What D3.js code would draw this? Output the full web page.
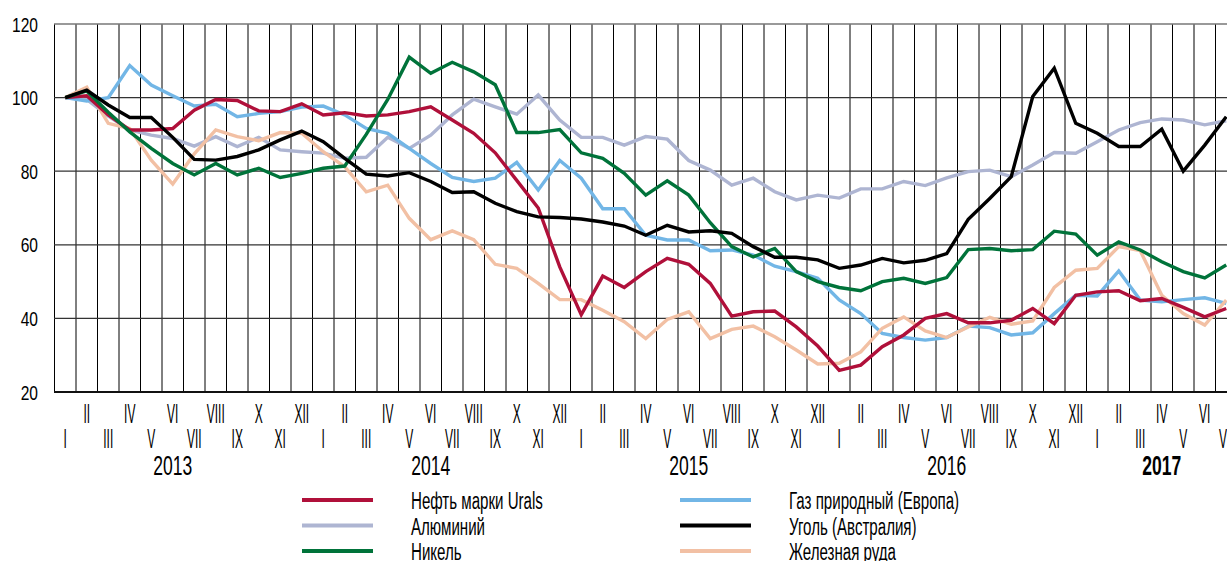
<!DOCTYPE html>
<html>
<head>
<meta charset="utf-8">
<script src="https://cdn.jsdelivr.net/npm/d3@7"></script>
<style>
  body { margin: 0; background: #fff; }
  svg { display: block; }
  text { font-family: "Liberation Sans Narrow", "Arial Narrow", "Liberation Sans", sans-serif; fill: #000; }
</style>
</head>
<body>
<div id="chart"></div>
<script>
// months Jan 2013 - Jul 2017
var months = ["I","II","III","IV","V","VI","VII","VIII","IX","X","XI","XII",
              "I","II","III","IV","V","VI","VII","VIII","IX","X","XI","XII",
              "I","II","III","IV","V","VI","VII","VIII","IX","X","XI","XII",
              "I","II","III","IV","V","VI","VII","VIII","IX","X","XI","XII",
              "I","II","III","IV","V","VI","VII"];
var yearLabels = ["2013", "2014", "2015", "2016", "2017"];
var yearAt = [5, 17, 29, 41, 51];
var yTicks = [20, 40, 60, 80, 100, 120];

var urals = [100,100.5,95.3,91.2,91.2,91.6,96.6,99.5,99.2,96.4,96.2,98.3,
             95.3,95.9,95,95.3,96.2,97.5,93.9,90.3,85,77.5,70,54,
             41,51.5,48.4,52.7,56.3,54.7,49.5,40.6,41.8,42,37.7,32.5,
             25.9,27.3,32.3,35.5,40,41.3,38.8,38.8,39.5,42.7,38.6,46.3,
             47.2,47.5,44.8,45.4,43,40.4,42.7];
var aluminium = [100,99.5,95,91.2,89.8,88.9,86.8,89.4,86.7,89.2,85.8,85.3,
             84.9,83.5,83.8,89.2,86.2,89.8,95.3,99.6,97.5,95.5,100.7,93.9,
             89.2,89.2,87.1,89.4,88.7,82.9,80.3,76.2,78.1,74.4,72.2,73.5,
             72.7,75.2,75.2,77.2,76.1,78.2,79.9,80.3,78.5,81.7,85.1,84.9,
             88,91.2,93.2,94.2,93.9,92.6,93.7];
var nickel = [100,101.8,96,90.7,86.2,82.1,79,82.1,79,80.8,78.3,79.4,
             80.8,81.4,90,99.5,111,106.6,109.6,107,103.5,90.5,90.5,91.3,
             85,83.5,79.4,73.5,77.4,73.5,66,59.5,56.7,59,52.7,50,
             48.4,47.5,50,50.9,49.5,51.1,58.7,59,58.4,58.7,63.7,62.9,
             57.2,60.8,58.6,55.4,52.7,51,54.5];
var gas = [100,99.1,100,108.7,103.4,100.5,97.7,98.2,94.8,95.7,96.2,97.4,
             97.7,95.3,91.6,90.3,86.2,82.1,78.3,77.2,78.1,82.4,74.9,82.9,
             78.1,69.8,69.8,62.6,61.3,61.3,58.4,58.6,57.2,54.2,52.7,50.9,
             45,41.3,35.9,34.8,34.1,34.8,37.9,37.5,35.5,36.1,41.3,46.3,
             46.1,52.9,45,44.5,45.1,45.6,44.1];
var coal = [100,102,98,94.6,94.6,89.2,83.2,83,84,85.8,88.5,90.9,
             88,83.5,79.2,78.7,79.6,77.2,74.2,74.4,71.3,69,67.6,67.4,
             67,66.2,65.1,62.6,65.3,63.5,63.8,63.1,59.5,56.6,56.6,55.9,
             53.6,54.5,56.3,55.1,55.8,57.6,66.9,72.6,78.5,100.3,108,93,
             90.3,86.7,86.7,91.4,80,87.1,94.8];
var ironOre = [100,102.8,93,91.6,83,76.5,84.7,91.2,89.4,88.3,90.5,90.3,
             85.3,81.2,74.4,76.2,67.2,61.4,63.8,61.4,54.7,53.6,49.5,45.1,
             45.1,42.2,39.1,34.5,39.7,41.8,34.5,37,37.9,35,31.4,27.6,
             27.8,30.9,37.3,40.4,36.6,34.8,37.7,40.3,38.4,39.3,48.4,53.1,
             53.6,59.5,58.4,46.3,41.3,38.2,45];

var seriesNames = ["Нефть марки Urals", "Алюминий", "Никель", "Газ природный (Европа)", "Уголь (Австралия)", "Железная руда"];
var seriesValues = [urals, aluminium, nickel, gas, coal, ironOre];
var seriesColors = ["#b0103a", "#aeb5d2", "#00733a", "#72b6e6", "#000000", "#f2c0a4"];
var drawOrder = [1, 3, 5, 0, 2, 4];

var width = 1227, height = 561;

var svg = d3.select("#chart").append("svg")
    .attr("width", width)
    .attr("height", height);

var x = d3.scaleBand()
    .domain(d3.range(months.length))
    .range([54.5, 54.5 + months.length * 21.5]);
var bw = x.bandwidth();

var y = d3.scaleLinear()
    .domain([20, 120])
    .range([392, 24]);

// squeeze the text to the narrow face of the original
function fit(str, size, weight, target) {
    var t = svg.append("text").style("font-size", size + "px").style("font-weight", weight).text(str);
    var w = t.node().getComputedTextLength();
    t.remove();
    return target / w;
}
var sxY = fit("120", 21, "normal", 26);
var sxRoman = fit("VIII", 27, "normal", 18);
var sxYear = fit("2013", 27, "normal", 39);
var sxLegend = fit("Нефть марки Urals", 23, "normal", 132);

// grid
var grid = svg.append("g");
var vlines = d3.range(months.length + 1).map(function (k) {
    return k < months.length ? x(k) : x.range()[1];
});
grid.selectAll(".vl")
    .data(vlines)
    .enter().append("line")
    .attr("x1", function (d) { return d; })
    .attr("x2", function (d) { return d; })
    .attr("y1", y(120))
    .attr("y2", y(20))
    .attr("stroke", "#000")
    .attr("stroke-width", 1);

grid.selectAll(".hl")
    .data(yTicks)
    .enter().append("line")
    .attr("x1", 54)
    .attr("x2", width)
    .attr("y1", function (d) { return y(d); })
    .attr("y2", function (d) { return y(d); })
    .attr("stroke", function (d) { return d == 120 ? "#777" : (d == 20 ? "#111" : "#333"); })
    .attr("stroke-width", function (d) { return d == 20 ? 2 : 1.3; });

// y labels
svg.selectAll(".ylab")
    .data(yTicks)
    .enter().append("text")
    .attr("transform", function (d) { return "translate(38," + y(d) + ") scale(" + sxY + ",1)"; })
    .attr("dy", "0.36em")
    .attr("text-anchor", "end")
    .style("font-size", "21px")
    .text(function (d) { return d; });

// month labels, two staggered rows
svg.selectAll(".mlab")
    .data(months)
    .enter().append("text")
    .attr("transform", function (d, i) {
        var yy = i % 2 == 0 ? 448 : 423;
        return "translate(" + (x(i) + bw / 2) + "," + yy + ") scale(" + sxRoman + ",1)";
    })
    .attr("text-anchor", "middle")
    .style("font-size", "27px")
    .text(function (d) { return d; });

// years
svg.selectAll(".ylbl")
    .data(yearLabels)
    .enter().append("text")
    .attr("transform", function (d, i) {
        return "translate(" + (x(yearAt[i]) + bw / 2) + ",475) scale(" + sxYear + ",1)";
    })
    .attr("text-anchor", "middle")
    .style("font-size", "27px")
    .style("font-weight", function (d) { return d == "2017" ? "bold" : "normal"; })
    .text(function (d) { return d; });

// series
var line = d3.line()
    .x(function (d, i) { return x(i) + bw / 2; })
    .y(function (d) { return y(d); });

svg.append("g").selectAll("path")
    .data(drawOrder)
    .enter().append("path")
    .attr("d", function (s) { return line(seriesValues[s]); })
    .attr("fill", "none")
    .attr("stroke", function (s) { return seriesColors[s]; })
    .attr("stroke-width", 3.4)
    .attr("stroke-linejoin", "miter");

// legend
var legend = svg.append("g");
seriesNames.forEach(function (name, s) {
    var col = Math.floor(s / 3), row = s % 3;
    var lx = col == 0 ? 302 : 680;
    var ly = 500 + row * 25.5;
    legend.append("line")
        .attr("x1", lx).attr("x2", lx + 71)
        .attr("y1", ly).attr("y2", ly)
        .attr("stroke", seriesColors[s])
        .attr("stroke-width", 4);
    legend.append("text")
        .attr("transform", "translate(" + (lx + 109) + "," + (ly + 9) + ") scale(" + sxLegend + ",1)")
        .style("font-size", "23px")
        .text(name);
});
</script>
</body>
</html>
